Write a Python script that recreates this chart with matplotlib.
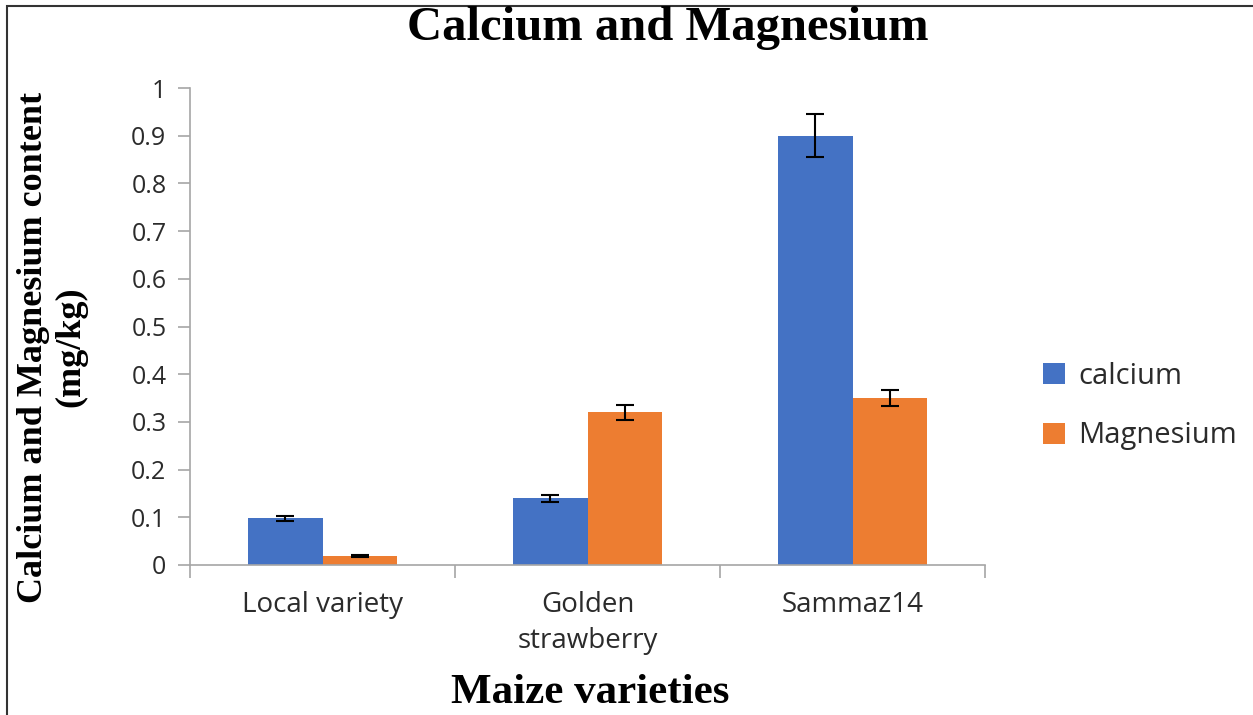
import numpy as np
import matplotlib.pyplot as plt
from matplotlib.patches import Rectangle

varieties = ["Local variety", "Golden\nstrawberry", "Sammaz14"]
calcium = [0.098, 0.14, 0.90]
calcium_err = [0.005, 0.007, 0.045]
magnesium = [0.018, 0.32, 0.35]
magnesium_err = [0.002, 0.015, 0.017]

blue = "#4472C4"
orange = "#ED7D31"
axis_grey = "#A6A6A6"
text_col = "#2b2b2b"
sans = "Open Sans"
serif = "Liberation Serif"

fig = plt.figure(figsize=(12.53, 7.15), dpi=100)
ax = fig.add_axes([190 / 1253, 1 - 565 / 715, 795 / 1253, 477 / 715])

x = np.arange(len(varieties))
w = 0.283
err_kw = dict(ecolor="black", elinewidth=1.5, capsize=6.5, capthick=1.5)
ax.bar(x - w / 2, calcium, w, yerr=calcium_err, color=blue, label="calcium", error_kw=err_kw, zorder=2)
ax.bar(x + w / 2, magnesium, w, yerr=magnesium_err, color=orange, label="Magnesium", error_kw=err_kw, zorder=2)

ax.set_xlim(-0.5, len(varieties) - 0.5)
ax.set_ylim(0, 1)
ax.set_yticks(np.arange(0, 1.01, 0.1))
ax.set_yticklabels(["0"] + [f"{v:.1f}" for v in np.arange(0.1, 0.95, 0.1)] + ["1"])

# category labels in the middle, ticks at the boundaries (Excel style)
ax.set_xticks(x)
ax.set_xticklabels(varieties, fontfamily=sans, fontsize=20, color=text_col, linespacing=1.35)
ax.tick_params(axis="x", length=0, pad=19)
ax.set_xticks(np.arange(-0.5, len(varieties), 1), minor=True)
ax.tick_params(axis="x", which="minor", length=9, width=1.2, color=axis_grey)
ax.tick_params(axis="y", length=9, width=1.2, color=axis_grey, pad=8, labelsize=18,
               labelcolor=text_col)
for lbl in ax.get_yticklabels():
    lbl.set_fontfamily(sans)

for s in ["top", "right"]:
    ax.spines[s].set_visible(False)
for s in ["left", "bottom"]:
    ax.spines[s].set_color(axis_grey)
    ax.spines[s].set_linewidth(1.2)

fig.text(668 / 1253, 1 - 28 / 715, "Calcium and Magnesium", ha="center", va="center",
         fontfamily=serif, fontweight="bold", fontsize=35)
fig.text(590 / 1253, 1 - 693 / 715, "Maize varieties", ha="center", va="center",
         fontfamily=serif, fontweight="bold", fontsize=31)
fig.text(52 / 1253, 1 - 347 / 715, "Calcium and Magnesium content\n(mg/kg)", ha="center",
         va="center", rotation=90, fontfamily=serif, fontweight="bold",
         fontsize=26, linespacing=1.15)

leg = ax.legend(loc="center left", bbox_to_anchor=(1.04, 0.333), frameon=False,
                prop={"family": sans, "size": 21}, handlelength=0.75, handleheight=0.75,
                labelspacing=1.05, handletextpad=0.45)
for t in leg.get_texts():
    t.set_color(text_col)

# outer frame of the picture
fig.patches.append(Rectangle((7 / 1253, -0.1), 2, 1 - 6 / 715 + 0.1, transform=fig.transFigure,
                             fill=False, edgecolor="#333333", linewidth=1.5))

fig.savefig("out.png", dpi=100)
